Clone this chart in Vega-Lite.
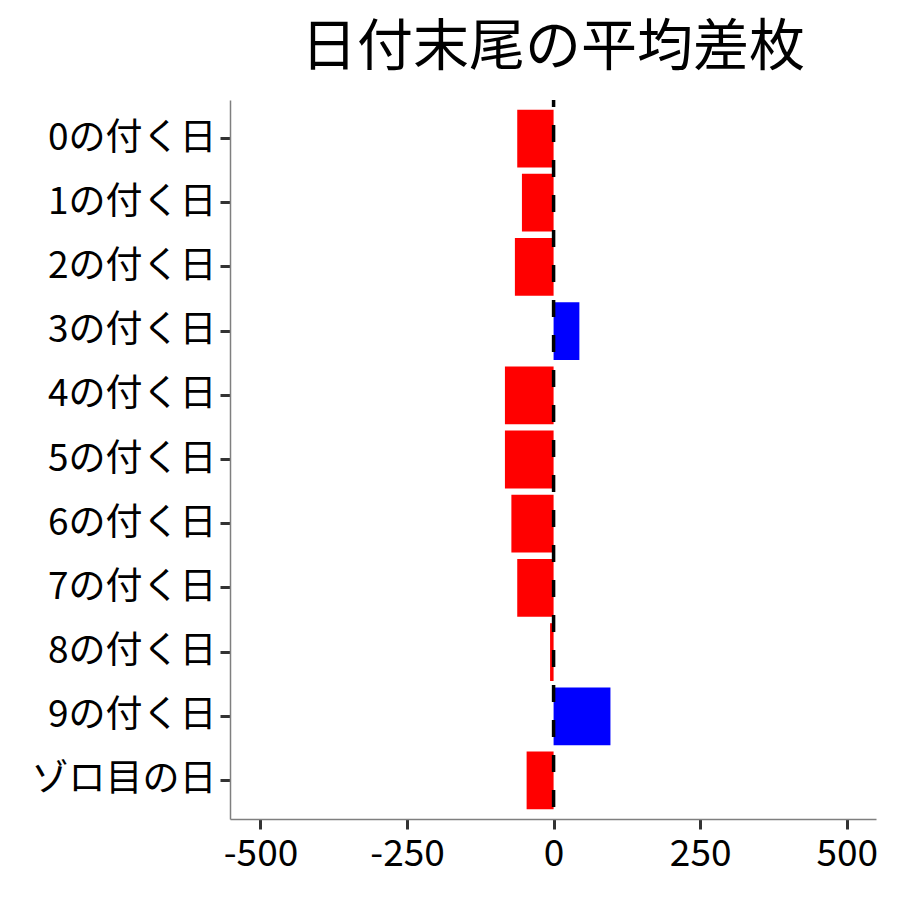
{
  "$schema": "https://vega.github.io/schema/vega-lite/v6.json",
  "autosize": {"type": "none"},
  "padding": {"left": 230, "top": 100, "right": 24, "bottom": 81},
  "width": 646,
  "height": 719,
  "background": "white",
  "title": {
    "text": "日付末尾の平均差枚",
    "font": "Noto Sans CJK JP",
    "fontSize": 56,
    "fontWeight": "normal",
    "color": "black",
    "anchor": "middle",
    "offset": 21
  },
  "config": {
    "view": {"stroke": null},
    "font": "Noto Sans CJK JP"
  },
  "data": {
    "values": [
      {"day": "0の付く日", "diff": -62},
      {"day": "1の付く日", "diff": -54},
      {"day": "2の付く日", "diff": -66},
      {"day": "3の付く日", "diff": 44},
      {"day": "4の付く日", "diff": -83},
      {"day": "5の付く日", "diff": -83},
      {"day": "6の付く日", "diff": -72},
      {"day": "7の付く日", "diff": -62},
      {"day": "8の付く日", "diff": -6},
      {"day": "9の付く日", "diff": 97},
      {"day": "ゾロ目の日", "diff": -46}
    ]
  },
  "layer": [
    {
      "mark": {"type": "bar"},
      "encoding": {
        "y": {
          "field": "day",
          "type": "nominal",
          "sort": null,
          "title": null,
          "scale": {"paddingInner": 0.1, "paddingOuter": 0.15},
          "axis": {
            "labelFont": "Noto Sans CJK JP",
            "labelFontSize": 37,
            "labelColor": "black",
            "labelPadding": 4,
            "labelLimit": 0,
            "tickSize": 10,
            "tickWidth": 3,
            "tickColor": "#333333",
            "domainColor": "#7f7f7f",
            "domainWidth": 1.5,
            "grid": false
          }
        },
        "x": {
          "field": "diff",
          "type": "quantitative",
          "title": null,
          "scale": {"domain": [-552, 550], "nice": false, "zero": false},
          "axis": {
            "values": [-500, -250, 0, 250, 500],
            "labelExpr": "'' + datum.value",
            "labelFont": "Noto Sans CJK JP",
            "labelFontSize": 37,
            "labelColor": "black",
            "labelPadding": 7,
            "tickSize": 10,
            "tickWidth": 3,
            "tickColor": "#333333",
            "domainColor": "#7f7f7f",
            "domainWidth": 1.5,
            "grid": false
          }
        },
        "color": {
          "condition": {"test": "datum.diff > 0", "value": "#0000ff"},
          "value": "#ff0000"
        }
      }
    },
    {
      "data": {"values": [{"x": 0}]},
      "mark": {"type": "rule", "color": "black", "strokeWidth": 3.5, "strokeDash": [17, 18], "strokeDashOffset": 10},
      "encoding": {
        "x": {"field": "x", "type": "quantitative"}
      }
    }
  ]
}
